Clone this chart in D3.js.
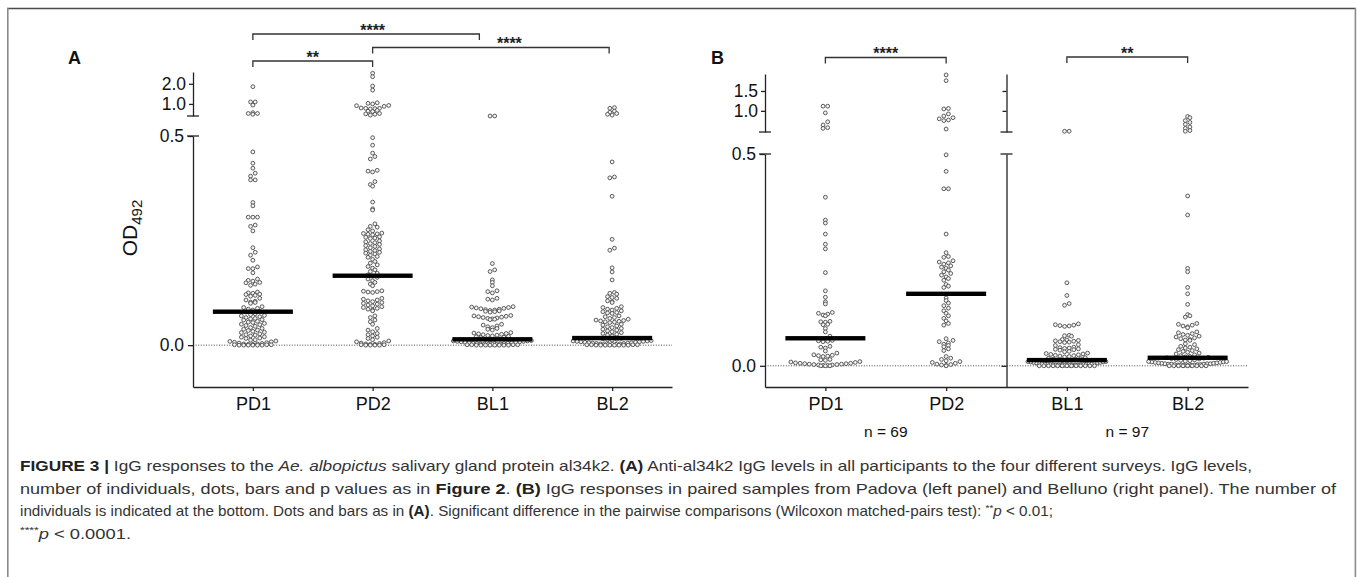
<!DOCTYPE html>
<html>
<head>
<meta charset="utf-8">
<script src="https://cdn.jsdelivr.net/npm/d3@7"></script>
<style>
  body { margin: 0; background: #fff; }
  svg { display: block; }
</style>
</head>
<body>
<div id="chart"></div>
<script>
const groups = ["PD1", "PD2", "BL1", "BL2"];

// panel A: all participants (values above 0.5 sit on the upper axis segment)
const aPD1 = [1.81, 1.07, 1.07, 0.96, 0.74, 0.72, 0.72, 0.70,
  0.462, 0.435, 0.423, 0.411, 0.404, 0.395, 0.395, 0.341, 0.333, 0.306, 0.306, 0.306, 0.287, 0.284, 0.273,
  0.233, 0.222, 0.215, 0.203, 0.187, 0.183, 0.183, 0.173,
  0.158, 0.155, 0.153, 0.150, 0.149, 0.146, 0.143,
  0.127, 0.125, 0.124, 0.122, 0.121, 0.119, 0.117,
  0.112, 0.108, 0.105, 0.103, 0.102, 0.100,
  0.092, 0.090, 0.088, 0.086, 0.084, 0.081, 0.079,
  0.075, 0.073, 0.071, 0.070, 0.068, 0.066, 0.064, 0.063, 0.061, 0.060,
  0.057, 0.055, 0.054, 0.052, 0.050, 0.049, 0.047, 0.045,
  0.042, 0.040, 0.038, 0.036, 0.035, 0.033, 0.031, 0.030,
  0.027, 0.025, 0.024, 0.022, 0.020, 0.019, 0.017, 0.016,
  0.013, 0.012, 0.010, 0.009, 0.008, 0.007, 0.006, 0.005,
  0.004, 0.003, 0.003, 0.002, 0.002, 0.001, 0.001, 0.001, 0.000, 0.000, 0.000, 0.000, 0.000, 0.000];
const aPD2 = [2.87, 2.55, 1.85, 1.61, 1.04, 1.02, 1.00, 0.95, 0.94, 0.92, 0.87, 0.86, 0.86, 0.85, 0.84, 0.80, 0.78, 0.77, 0.72, 0.71, 0.70, 0.68,
  0.496, 0.478, 0.459, 0.451, 0.445, 0.418, 0.416, 0.414, 0.391, 0.384, 0.380, 0.342, 0.326, 0.323,
  0.290, 0.284, 0.282, 0.276, 0.273, 0.268, 0.267, 0.266, 0.265, 0.264, 0.259, 0.258, 0.256, 0.255,
  0.249, 0.247, 0.245, 0.243, 0.241, 0.238, 0.236, 0.233, 0.230, 0.228, 0.226, 0.224, 0.222, 0.220, 0.218, 0.215, 0.212, 0.210,
  0.205, 0.200, 0.196, 0.192, 0.188, 0.184, 0.180, 0.176, 0.172, 0.168, 0.165, 0.162, 0.158, 0.154, 0.150, 0.146, 0.142,
  0.130, 0.129, 0.128, 0.127, 0.126,
  0.112, 0.110, 0.108, 0.106, 0.104, 0.102, 0.100, 0.098, 0.096, 0.094, 0.092, 0.090, 0.088, 0.086, 0.084, 0.082,
  0.070, 0.066, 0.060, 0.056, 0.050,
  0.040, 0.036, 0.032, 0.028, 0.025, 0.022, 0.019, 0.016, 0.013, 0.010, 0.008, 0.006, 0.005, 0.004, 0.003,
  0.002, 0.002, 0.001, 0.001, 0.000, 0.000, 0.000, 0.000];
const aBL1 = [0.66, 0.66,
  0.195, 0.180, 0.176, 0.156, 0.150, 0.142, 0.130, 0.128, 0.125, 0.112, 0.110, 0.108,
  0.092, 0.091, 0.090, 0.089, 0.088, 0.087, 0.086, 0.085, 0.084, 0.083, 0.082, 0.081, 0.080, 0.079,
  0.071, 0.070, 0.069, 0.068, 0.067, 0.066, 0.065, 0.064, 0.063, 0.062, 0.061,
  0.050, 0.048, 0.046, 0.044, 0.042, 0.040, 0.038, 0.036,
  0.030, 0.029, 0.028, 0.027, 0.026, 0.025, 0.024, 0.023, 0.022, 0.021, 0.020, 0.019, 0.018,
  0.015, 0.014, 0.013, 0.012, 0.011, 0.010, 0.010, 0.009, 0.009, 0.008, 0.008, 0.007, 0.007, 0.006, 0.006,
  0.005, 0.005, 0.004, 0.004, 0.003, 0.003, 0.003, 0.002, 0.002, 0.002, 0.001, 0.001, 0.001, 0.001,
  0.000, 0.000, 0.000, 0.000, 0.000, 0.000, 0.000, 0.000];
const aBL2 = [0.88, 0.86, 0.78, 0.75, 0.72, 0.70, 0.68,
  0.438, 0.402, 0.400, 0.356, 0.253, 0.232, 0.227, 0.185, 0.175, 0.156,
  0.126, 0.124, 0.122, 0.116, 0.114, 0.112, 0.106, 0.104, 0.102,
  0.092, 0.090, 0.088, 0.086, 0.084, 0.082, 0.080, 0.078, 0.077, 0.076,
  0.070, 0.068, 0.066, 0.064, 0.062, 0.060, 0.059, 0.058, 0.057, 0.056, 0.055, 0.054,
  0.050, 0.048, 0.046, 0.044, 0.042, 0.040, 0.038, 0.036, 0.034, 0.032, 0.030, 0.028, 0.026, 0.024, 0.022,
  0.016, 0.015, 0.014, 0.013, 0.012, 0.011, 0.010, 0.010, 0.009, 0.009, 0.008, 0.008, 0.007, 0.007, 0.006, 0.006,
  0.005, 0.005, 0.004, 0.004, 0.003, 0.003, 0.003, 0.002, 0.002, 0.002, 0.001, 0.001, 0.001, 0.001,
  0.000, 0.000, 0.000, 0.000, 0.000, 0.000, 0.000, 0.000];
const medianA = [0.080, 0.166, 0.014, 0.017];

// panel B: paired samples
const bPD1 = [1.10, 1.10, 0.96, 0.80, 0.75, 0.71, 0.70,
  0.398, 0.344, 0.337, 0.311, 0.287, 0.276, 0.220, 0.177, 0.162, 0.151, 0.146,
  0.126, 0.124, 0.122, 0.120, 0.118, 0.105, 0.104, 0.103, 0.098, 0.097, 0.088, 0.080, 0.070,
  0.062, 0.061, 0.060, 0.059, 0.058, 0.057,
  0.046, 0.044, 0.042, 0.035, 0.030,
  0.026, 0.025, 0.024, 0.023, 0.022, 0.015, 0.014, 0.013,
  0.010, 0.009, 0.008, 0.007, 0.006, 0.006, 0.005, 0.005, 0.004, 0.004, 0.003, 0.003, 0.002, 0.002,
  0.001, 0.001, 0.000, 0.000, 0.000];
const bPD2 = [2.08, 1.85, 1.05, 1.04, 0.94, 0.90, 0.87, 0.85, 0.83, 0.82, 0.69,
  0.498, 0.459, 0.418, 0.418, 0.311, 0.267, 0.258, 0.256,
  0.248, 0.245, 0.243, 0.240, 0.236, 0.233, 0.230, 0.226, 0.222, 0.218, 0.214, 0.210, 0.206, 0.202,
  0.192, 0.188, 0.185,
  0.160, 0.154, 0.148, 0.142, 0.136, 0.130, 0.124, 0.118, 0.112, 0.106, 0.100, 0.096,
  0.064, 0.060, 0.057, 0.054, 0.051, 0.048, 0.045, 0.040, 0.036,
  0.022, 0.018, 0.015, 0.012, 0.010, 0.008, 0.006, 0.004, 0.003, 0.002, 0.001, 0.000];
const bBL1 = [0.66, 0.66,
  0.196, 0.166, 0.147, 0.143, 0.099, 0.097, 0.096, 0.095, 0.094, 0.093, 0.072, 0.071, 0.070,
  0.062, 0.061, 0.060, 0.059, 0.058, 0.057, 0.056, 0.055,
  0.050, 0.048, 0.044, 0.043, 0.042, 0.041, 0.040, 0.039, 0.038, 0.037,
  0.034, 0.033, 0.030, 0.029, 0.028, 0.027, 0.026, 0.025, 0.024, 0.023, 0.022, 0.021,
  0.019, 0.018, 0.017, 0.016, 0.015, 0.014, 0.013, 0.012, 0.011,
  0.010, 0.010, 0.009, 0.009, 0.008, 0.008, 0.007, 0.007, 0.006, 0.006,
  0.005, 0.005, 0.005, 0.004, 0.004, 0.004, 0.003, 0.003, 0.003, 0.003, 0.002, 0.002, 0.002, 0.002,
  0.001, 0.001, 0.001, 0.001, 0.001,
  0.000, 0.000, 0.000, 0.000, 0.000, 0.000, 0.000, 0.000, 0.000, 0.000, 0.000, 0.000, 0.000];
const bBL2 = [0.89, 0.87, 0.82, 0.79, 0.76, 0.72, 0.70, 0.67, 0.66,
  0.401, 0.356, 0.230, 0.222, 0.185, 0.170, 0.145, 0.121, 0.118, 0.115, 0.100, 0.098, 0.096, 0.094, 0.092, 0.090,
  0.080, 0.078, 0.076, 0.074, 0.072, 0.070, 0.068, 0.066, 0.064, 0.062, 0.061, 0.060,
  0.052, 0.050, 0.046, 0.044, 0.042, 0.040, 0.038, 0.036, 0.034, 0.032, 0.030, 0.028, 0.026, 0.024, 0.022, 0.021, 0.020, 0.019, 0.018,
  0.017, 0.016, 0.015, 0.014, 0.013, 0.012, 0.011, 0.010, 0.010, 0.009, 0.009, 0.008, 0.008, 0.007, 0.007, 0.006, 0.006,
  0.005, 0.005, 0.005, 0.004, 0.004, 0.004, 0.003, 0.003, 0.003, 0.002, 0.002, 0.002, 0.001, 0.001, 0.001,
  0.000, 0.000, 0.000, 0.000, 0.000, 0.000, 0.000, 0.000, 0.000];
const medianB = [0.065, 0.170, 0.0135, 0.019];

const pairCounts = ["n = 69", "n = 97"];

// significance brackets
const bracketsA = [
  { from: "PD1", to: "BL1", label: "****", level: 34, endShift: -13, labelShift: 0 },
  { from: "PD2", to: "BL2", label: "****", level: 47.5, endShift: -3, labelShift: 17 },
  { from: "PD1", to: "PD2", label: "**", level: 61, endShift: 0, labelShift: 0 }
];
const bracketsB = [
  { from: "PD1", to: "PD2", label: "****", level: 57.5, endShift: 0, labelShift: 0 },
  { from: "BL1", to: "BL2", label: "**", level: 57, endShift: 0, labelShift: 0 }
];

const FONT = "'Liberation Sans', Arial, Helvetica, sans-serif";
const svg = d3.select("#chart").append("svg")
    .attr("width", 1358)
    .attr("height", 577)
    .style("font-family", FONT);

// figure frame
svg.append("line").attr("x1", 7).attr("x2", 1356).attr("y1", 8.5).attr("y2", 8.5)
    .attr("stroke", "#4a4a4a").attr("stroke-width", 1.6);
[7.8, 1355.4].forEach(xx => {
    svg.append("line").attr("x1", xx).attr("x2", xx).attr("y1", 8).attr("y2", 577)
        .attr("stroke", "#8a8a8a").attr("stroke-width", 1.6);
});

// GraphPad-like scatter: points in the same 4px row spread out from the centre
function swarm(values, yLow, yHigh, cx) {
    const pts = values.map(v => ({ v, y: v > 0.5 ? yHigh(v) : yLow(v) }));
    const rows = d3.group(pts, p => Math.floor(p.y / 4.2));
    const out = [];
    for (const row of rows.values()) {
        row.sort((a, b) => a.v - b.v);
        const n = row.length;
        const s = n > 1 ? Math.min(4.6, 78 / (n - 1)) : 0;
        const offs = d3.range(n).map(i => (i - (n - 1) / 2) * s)
            .sort((a, b) => Math.abs(a) - Math.abs(b) || a - b);
        row.forEach((p, i) => out.push({ x: cx + offs[i], y: p.y }));
    }
    return out;
}

function styleAxis(sel, size) {
    sel.selectAll(".domain, .tick line").attr("stroke", "#222").attr("stroke-width", 1.3);
    sel.selectAll("text").attr("fill", "#111").attr("font-size", size).attr("font-family", FONT);
}

function yAxis(g, ax, yLow, yHigh, lowTicks, highTicks, labelled) {
    const fmt = labelled ? d3.format(".1f") : () => "";
    g.append("g").attr("transform", `translate(${ax},0)`)
        .call(d3.axisLeft(yLow).tickValues(lowTicks).tickFormat(fmt).tickSize(5).tickPadding(4).tickSizeOuter(0))
        .call(styleAxis, 17.5);
    g.append("g").attr("transform", `translate(${ax},0)`)
        .call(d3.axisLeft(yHigh).tickValues(highTicks).tickFormat(fmt).tickSize(4).tickPadding(3).tickSizeOuter(0))
        .call(styleAxis, 17.5);
    // caps at the axis break
    [yLow.range()[1], yHigh.range()[0]].forEach(yy => {
        g.append("line").attr("x1", ax - 6).attr("x2", ax + 6).attr("y1", yy).attr("y2", yy)
            .attr("stroke", "#222").attr("stroke-width", 1.3);
    });
}

function drawPanel(cfg) {
    const g = svg.append("g");
    const x = d3.scalePoint().domain(groups).range([cfg.left, cfg.right]).padding(0.5);
    const yLow = d3.scaleLinear().domain(cfg.lowDomain).range([cfg.bottom, cfg.lowTop]);
    const yHigh = d3.scaleLog().domain(cfg.highDomain).range([cfg.highBottom, cfg.highTop]);

    // dotted zero line
    g.append("line")
        .attr("x1", cfg.left).attr("x2", cfg.right)
        .attr("y1", yLow(0)).attr("y2", yLow(0))
        .attr("stroke", "#333").attr("stroke-width", 0.9).attr("stroke-dasharray", "1 1.6");

    yAxis(g, cfg.left, yLow, yHigh, [0, 0.5], cfg.highTicks, true);
    if (cfg.split) {
        const mid = (x("PD2") + x("BL1")) / 2;
        yAxis(g, mid, yLow, yHigh, [0], cfg.highTicks, false);
    }

    g.append("g").attr("transform", `translate(0,${cfg.bottom})`)
        .call(d3.axisBottom(x).tickSize(4).tickPadding(6).tickSizeOuter(0))
        .call(styleAxis, 18);

    // dots
    cfg.values.forEach((vals, i) => {
        g.append("g")
            .selectAll("circle")
            .data(swarm(vals, yLow, yHigh, x(groups[i])))
            .join("circle")
            .attr("cx", d => d.x)
            .attr("cy", d => d.y)
            .attr("r", 1.9)
            .attr("fill", "#f4f4f4")
            .attr("stroke", "#4a4a4a")
            .attr("stroke-width", 0.9);
    });

    // median bars
    g.append("g")
        .selectAll("rect")
        .data(cfg.medians)
        .join("rect")
        .attr("x", (d, i) => x(groups[i]) - 40)
        .attr("width", 80)
        .attr("y", d => yLow(d) - 2.2)
        .attr("height", 4.4)
        .attr("fill", "#000");

    // brackets
    cfg.brackets.forEach(b => {
        const x1 = x(b.from), x2 = x(b.to) + b.endShift;
        g.append("path")
            .attr("d", `M${x1},${b.level + 6}V${b.level}H${x2}V${b.level + 6}`)
            .attr("fill", "none").attr("stroke", "#333").attr("stroke-width", 1.3);
        g.append("text")
            .attr("x", (x(b.from) + x(b.to)) / 2 + b.labelShift)
            .attr("y", b.level + 1.5)
            .attr("text-anchor", "middle")
            .attr("font-size", 16)
            .attr("font-weight", "bold")
            .attr("fill", "#222")
            .text(b.label);
    });

    g.append("text")
        .attr("x", cfg.letterX).attr("y", 64)
        .attr("font-size", 18).attr("font-weight", "bold").attr("fill", "#111")
        .text(cfg.letter);

    return { g, x, yLow };
}

drawPanel({
    letter: "A", letterX: 68,
    left: 193, right: 672, bottom: 387,
    lowDomain: [-0.1, 0.5], lowTop: 136,
    highDomain: [0.66, 3.0], highBottom: 116, highTop: 72, highTicks: [1, 2],
    values: [aPD1, aPD2, aBL1, aBL2], medians: medianA, brackets: bracketsA, split: false
});

const pB = drawPanel({
    letter: "B", letterX: 711,
    left: 765, right: 1248, bottom: 387,
    lowDomain: [-0.05, 0.5], lowTop: 154,
    highDomain: [0.65, 2.12], highBottom: 132, highTop: 74, highTicks: [1, 1.5],
    values: [bPD1, bPD2, bBL1, bBL2], medians: medianB, brackets: bracketsB, split: true
});

// pair counts under panel B
pB.g.selectAll("text.count")
    .data(pairCounts)
    .join("text")
    .attr("class", "count")
    .attr("x", (d, i) => (pB.x(groups[2 * i]) + pB.x(groups[2 * i + 1])) / 2)
    .attr("y", 437)
    .attr("text-anchor", "middle")
    .attr("font-size", 15.5)
    .attr("fill", "#111")
    .text(d => d);

// y-axis title
const yt = svg.append("text")
    .attr("transform", "translate(137,228) rotate(-90)")
    .attr("text-anchor", "middle")
    .attr("font-size", 21)
    .attr("fill", "#111");
yt.append("tspan").text("OD");
yt.append("tspan").attr("font-size", 15).attr("dy", 5).text("492");

// caption
const captionLines = [
    [["FIGURE 3 | ", "b"], ["IgG responses to the ", ""], ["Ae. albopictus", "i"], [" salivary gland protein al34k2. ", ""], ["(A)", "b"],
     [" Anti-al34k2 IgG levels in all participants to the four different surveys. IgG levels,", ""]],
    [["number of individuals, dots, bars and p values as in ", ""], ["Figure 2", "b"], [". ", ""], ["(B)", "b"],
     [" IgG responses in paired samples from Padova (left panel) and Belluno (right panel). The number of", ""]],
    [["individuals is indicated at the bottom. Dots and bars as in ", ""], ["(A)", "b"],
     [". Significant difference in the pairwise comparisons (Wilcoxon matched-pairs test): ", ""], ["**", "sup"], ["p", "i"], [" < 0.01;", ""]],
    [["****", "sup"], ["p", "i"], [" < 0.0001.", ""]]
];
// widths of the typeset caption lines, as they appear in the figure
const captionWidths = [1232, 1316, 1033, 111];

captionLines.forEach((segs, li) => {
    const t = svg.append("text")
        .attr("x", 20)
        .attr("y", 471 + li * 22.5)
        .attr("font-size", 14.5)
        .attr("fill", "#333");
    let raised = false;
    segs.forEach(([str, st]) => {
        const ts = t.append("tspan").text(str);
        if (st === "b") ts.attr("font-weight", "bold").attr("fill", "#222");
        if (st === "i") ts.attr("font-style", "italic");
        if (st === "sup") { ts.attr("font-size", 9.5).attr("dy", -5.5); raised = true; }
        else if (raised) { ts.attr("dy", 5.5); raised = false; }
    });
    t.attr("textLength", captionWidths[li]).attr("lengthAdjust", "spacingAndGlyphs");
});
</script>
</body>
</html>
